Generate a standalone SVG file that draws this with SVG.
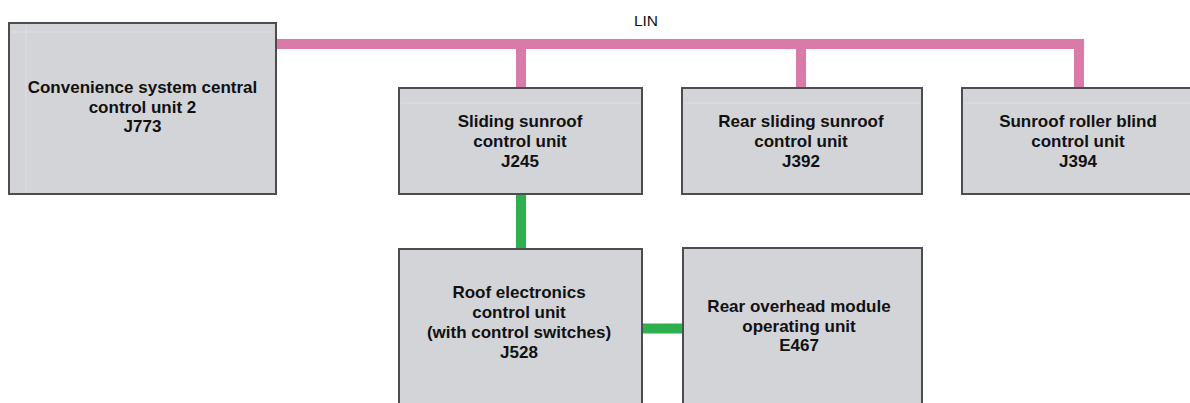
<svg xmlns="http://www.w3.org/2000/svg" width="1190" height="403" viewBox="0 0 1190 403">
<style>
.box{fill:#d3d4d8;stroke:#4d4d4f;stroke-width:2}
.hl{fill:none;stroke:#dfe0e3;stroke-width:1}
.t{font-family:"Liberation Sans",Arial,sans-serif;font-weight:bold;font-size:17px;fill:#111;text-anchor:middle}
.lin{fill:none;stroke:#d97aa8;stroke-width:10;stroke-linejoin:miter}
.can{fill:none;stroke:#2db04e;stroke-width:10}
</style>
<rect width="1190" height="403" fill="#fff"/>
<g id="connectors">
<path class="lin" d="M276,44 H1079 V88"/>
<path class="lin" d="M521,44 V88"/>
<path class="lin" d="M801,44 V88"/>
<path class="can" d="M521,194 V249"/>
<path class="can" d="M641,328.5 H683" stroke-width="11"/>
<text x="646" y="26" font-family="Liberation Sans,Arial,sans-serif" font-size="15.5" text-anchor="middle" fill="#111">LIN</text>
</g>
<g id="J773">
<rect class="box" x="9" y="23" width="267" height="171"/>
<path class="hl" d="M11,32 H274 M26,25 V192"/>
<text class="t" x="142.5" y="93">Convenience system central</text>
<text class="t" x="142.5" y="112.5">control unit 2</text>
<text class="t" x="142.5" y="132">J773</text>
</g>
<g id="J245">
<rect class="box" x="399" y="88" width="243" height="106"/>
<path class="hl" d="M401,103 H640"/>
<text class="t" x="520" y="127">Sliding sunroof</text>
<text class="t" x="520" y="147">control unit</text>
<text class="t" x="520" y="167">J245</text>
</g>
<g id="J392">
<rect class="box" x="682" y="88" width="240" height="106"/>
<path class="hl" d="M684,103 H920"/>
<text class="t" x="801" y="127">Rear sliding sunroof</text>
<text class="t" x="801" y="147">control unit</text>
<text class="t" x="801" y="167">J392</text>
</g>
<g id="J394">
<rect class="box" x="962" y="88" width="234" height="106"/>
<path class="hl" d="M964,103 H1194"/>
<text class="t" x="1078" y="127">Sunroof roller blind</text>
<text class="t" x="1078" y="147">control unit</text>
<text class="t" x="1078" y="167">J394</text>
</g>
<g id="J528">
<rect class="box" x="399" y="249" width="243" height="170"/>
<text class="t" x="519" y="298">Roof electronics</text>
<text class="t" x="519" y="318">control unit</text>
<text class="t" x="519" y="338">(with control switches)</text>
<text class="t" x="519" y="358">J528</text>
</g>
<g id="E467">
<rect class="box" x="683" y="248" width="239" height="171"/>
<text class="t" x="799" y="312">Rear overhead module</text>
<text class="t" x="799" y="332">operating unit</text>
<text class="t" x="799" y="351">E467</text>
</g>
</svg>
